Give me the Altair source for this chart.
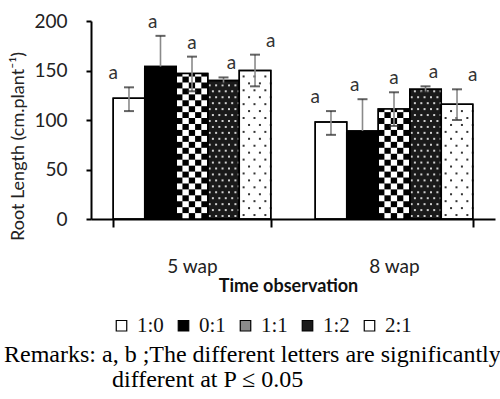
import altair as alt
import pandas as pd

# ---- data ----
treatments = ["1:0", "0:1", "1:1", "1:2", "2:1"]
times = ["5 wap", "8 wap"]
mean_5wap = [122, 154, 147, 140, 150]
mean_8wap = [98, 89, 111, 131, 116]
err_up_5wap = [11, 31, 17, 3, 16]
err_up_8wap = [11, 32, 17, 3, 15]
err_down_5wap = [13, 0, 18, 3, 16]   # lower arm not visible on the black bar
err_down_8wap = [13, 0, 17, 3, 16]
letters_5wap = ["a", "a", "a", "a", "a"]
letters_8wap = ["a", "a", "a", "a", "a"]
legend_fill = ["#ffffff", "#000000", "#8c8c8c", "#1a1a1a", "#ffffff"]
remark_line1 = "Remarks: a, b ;The different letters are significantly"
remark_line2 = "different at P \u2264 0.05"

means = {"5 wap": mean_5wap, "8 wap": mean_8wap}
ups = {"5 wap": err_up_5wap, "8 wap": err_up_8wap}
downs = {"5 wap": err_down_5wap, "8 wap": err_down_8wap}
lets = {"5 wap": letters_5wap, "8 wap": letters_8wap}

rows = []
for t in times:
    for i, tr in enumerate(treatments):
        m = means[t][i]
        rows.append({
            "time": t, "treatment": tr, "mean": m,
            "hi": m + ups[t][i], "lo": m - downs[t][i],
            "has_lo": downs[t][i] > 0, "letter": lets[t][i],
        })
df = pd.DataFrame(rows)

# pattern fills (decoration generated from bar heights)
CH = 6  # checker cell height in data units
checker = []
dots_a = []  # white dots on black (1:2)
dots_b = []  # black dots on white (2:1)
for t in times:
    v = means[t][treatments.index("1:1")]
    r = 0
    while r * CH < v:
        for c in range(5):
            checker.append({"time": t, "key": f"1:1|{c}", "y0": r * CH,
                            "y1": min(v, (r + 1) * CH),
                            "col": "black" if (r + c) % 2 == 0 else "white"})
        r += 1
    v = means[t][treatments.index("1:2")]
    r = 0
    while r * 6 + 3 < v - 1:
        for sc in range(10):
            if sc % 2 == r % 2:
                dots_a.append({"time": t, "key": f"1:2|{sc}", "y": r * 6 + 3})
        r += 1
    v = means[t][treatments.index("2:1")]
    r = 0
    while r * 7 + 4 < v - 1:
        for sc in range(6):
            if sc % 2 == r % 2:
                dots_b.append({"time": t, "key": f"2:1|{sc}", "y": r * 7 + 4})
        r += 1

checker_df = pd.DataFrame(checker)
dots_a_df = pd.DataFrame(dots_a)
dots_b_df = pd.DataFrame(dots_b)

FONT = "Lato"
SERIF = "Liberation Serif"
ytitle = "Root Length (cm.plant\u207b\u00b9)"

x_axis = alt.Axis(tickBand="extent", labelPadding=30, tickSize=8, tickWidth=2,
                  tickColor="black", domainWidth=2, domainColor="black",
                  labelAngle=0, labelFont=FONT, labelFontSize=19, labelColor="#222",
                  titleFont=FONT, titleFontSize=18, titleFontWeight="bold",
                  titlePadding=1, titleColor="#111", titleX=197)
y_axis = alt.Axis(values=[0, 50, 100, 150, 200], tickSize=5, tickWidth=2,
                  tickColor="black", domainWidth=2, domainColor="black",
                  labelPadding=19, labelFont=FONT, labelFontSize=19, labelColor="#222",
                  titleFont=FONT, titleFontSize=18, titleFontWeight="normal",
                  titleColor="#222", titlePadding=6, titleY=125, grid=False)


def xenc():
    return alt.X("time:N", sort=times,
                 scale=alt.Scale(paddingInner=0.22, paddingOuter=0.11),
                 axis=x_axis, title="Time observation")


def yenc(field):
    return alt.Y(field, type="quantitative", scale=alt.Scale(domain=[0, 200]),
                 axis=y_axis, title=ytitle)


tr_off = alt.XOffset("treatment:N", sort=treatments,
                     scale=alt.Scale(domain=treatments, paddingInner=0, paddingOuter=0))
checker_keys = [f"{tr}|{c}" for tr in treatments for c in range(5)]
dots_a_keys = [f"{tr}|{c}" for tr in treatments for c in range(10)]
dots_b_keys = [f"{tr}|{c}" for tr in treatments for c in range(6)]


def key_off(keys):
    return alt.XOffset("key:N", sort=keys,
                       scale=alt.Scale(domain=keys, paddingInner=0, paddingOuter=0))


base = alt.Chart(df).mark_bar(stroke="black", strokeWidth=1.5).encode(
    x=xenc(), xOffset=tr_off, y=yenc("mean"),
    fill=alt.Fill("treatment:N", sort=treatments,
                  scale=alt.Scale(domain=treatments, range=legend_fill),
                  legend=alt.Legend(orient="none", legendX=20, legendY=294,
                                    direction="horizontal", title=None,
                                    symbolType="square", symbolSize=110,
                                    symbolStrokeColor="black", symbolStrokeWidth=1.2,
                                    symbolOpacity=1,
                                    labelFont=SERIF, labelFontSize=21,
                                    labelColor="#111", labelOffset=5,
                                    columnPadding=9)),
)

checks = alt.Chart(checker_df).mark_rect(strokeWidth=0).encode(
    x=xenc(), xOffset=key_off(checker_keys), y=yenc("y0"), y2="y1",
    color=alt.Color("col:N", scale=None),
)

dA = alt.Chart(dots_a_df).mark_square(size=4, color="#d0d0d0", opacity=1).encode(
    x=xenc(), xOffset=key_off(dots_a_keys), y=yenc("y"),
)
dB = alt.Chart(dots_b_df).mark_square(size=4, color="#333333", opacity=1).encode(
    x=xenc(), xOffset=key_off(dots_b_keys), y=yenc("y"),
)

outline = alt.Chart(df).mark_bar(fillOpacity=0, stroke="black", strokeWidth=1.5).encode(
    x=xenc(), xOffset=tr_off, y=yenc("mean"),
)

err = alt.Chart(df).mark_rule(color="#8a8a8a", strokeWidth=1.6).encode(
    x=xenc(), xOffset=tr_off, y=yenc("lo"), y2="hi",
)
cap_hi = alt.Chart(df).mark_tick(color="#222", size=10, thickness=2).encode(
    x=xenc(), xOffset=tr_off, y=yenc("hi"),
)
cap_lo = alt.Chart(df).transform_filter("datum.has_lo").mark_tick(
    color="#222", size=10, thickness=2).encode(
    x=xenc(), xOffset=tr_off, y=yenc("lo"),
)
letters = alt.Chart(df).mark_text(font=FONT, fontSize=19, color="#333",
                                  baseline="alphabetic", dy=-8).encode(
    x=xenc(), xOffset=tr_off, y=yenc("hi"), text="letter:N",
)

chart = alt.layer(base, checks, dA, dB, outline, err, cap_hi, cap_lo, letters).resolve_scale(
    xOffset="independent"
).properties(
    width=404, height=198,
    autosize=alt.AutoSizeParams(type="none"),
    padding={"left": 91, "top": 21, "right": 5, "bottom": 180},
    title=alt.TitleParams(
        text=[remark_line1, "\u200b" + "\u00a0" * 18 + remark_line2],
        orient="bottom", anchor="start", frame="group", dx=-87, offset=7,
        font=SERIF, fontSize=24, fontWeight="normal", color="#000",
        lineHeight=25, align="left",
    ),
).configure_view(stroke=None)

chart.save("out.html", embed_options={"renderer": "svg", "actions": False})
